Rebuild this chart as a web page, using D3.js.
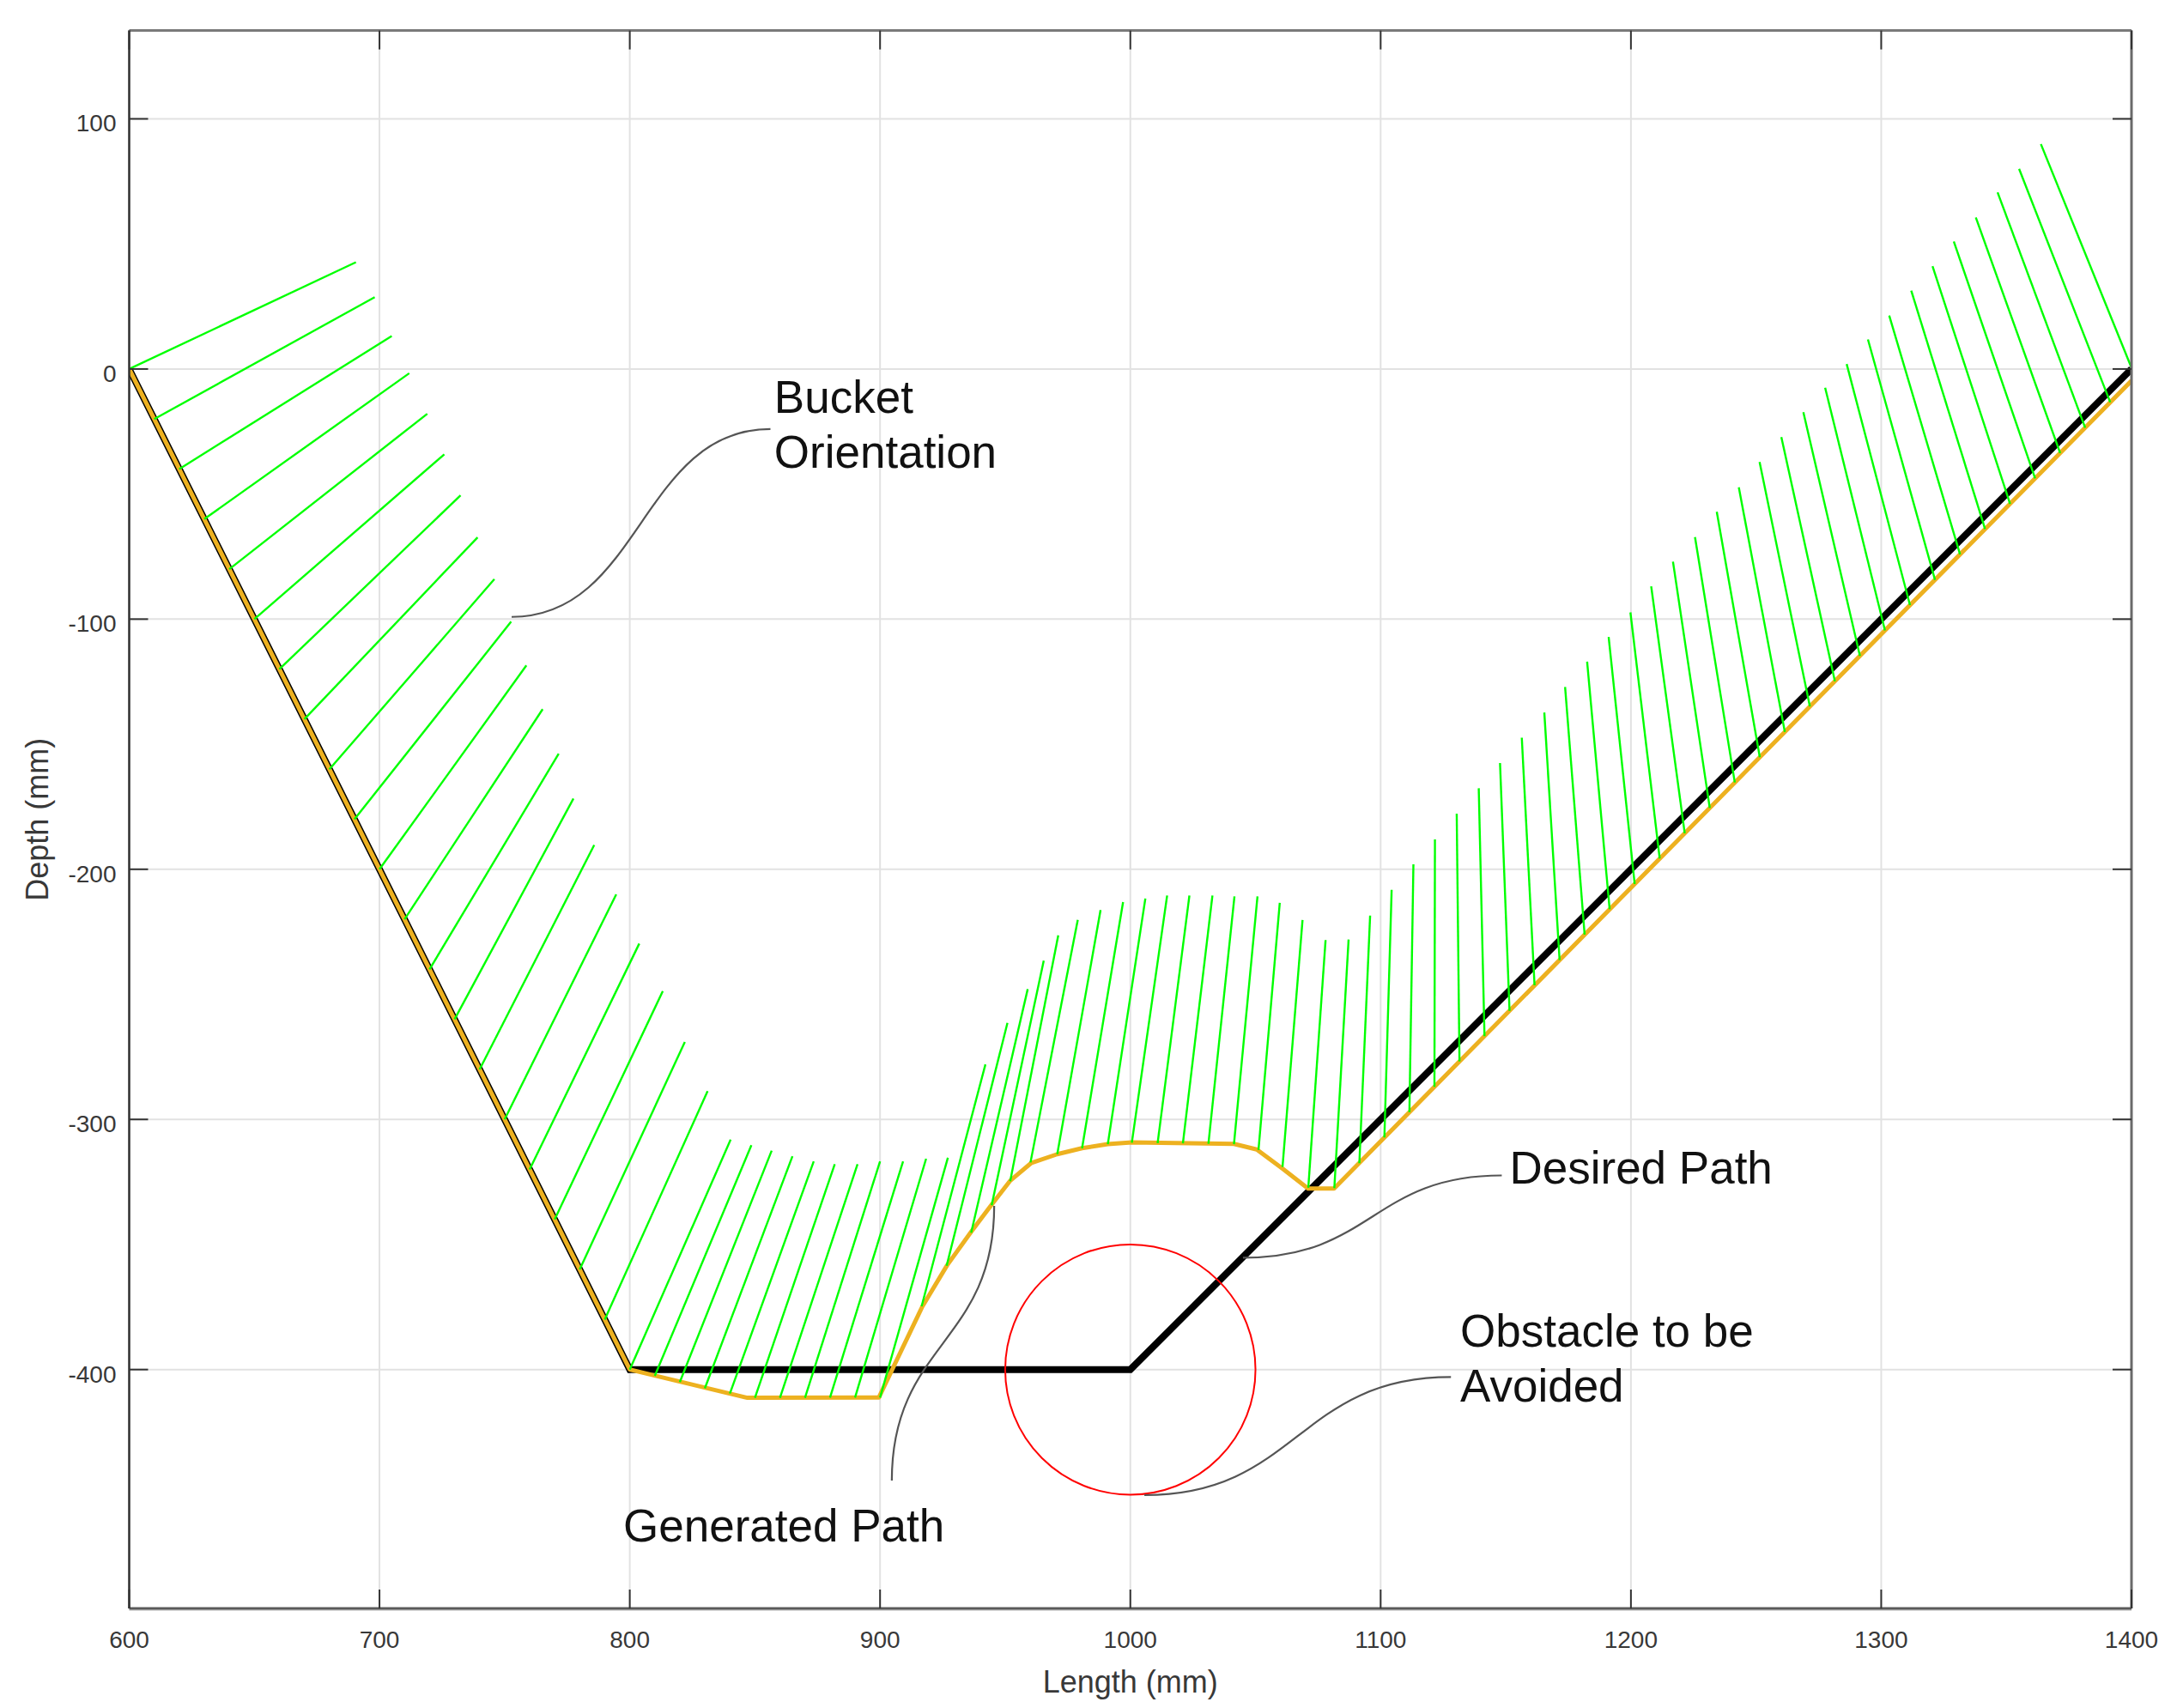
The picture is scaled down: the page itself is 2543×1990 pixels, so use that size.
<!DOCTYPE html>
<html>
<head>
<meta charset="utf-8">
<script src="https://cdn.jsdelivr.net/npm/d3@7"></script>
<style>
  html, body { margin: 0; padding: 0; background: #ffffff; }
  svg { display: block; }
  text { font-family: "Liberation Sans", Arial, Helvetica, sans-serif; }
</style>
</head>
<body>
<svg id="chart" width="2543" height="1990"></svg>
<script>
// ---------------- DATA ----------------
const xTicks = [600, 700, 800, 900, 1000, 1100, 1200, 1300, 1400];
const yTicks = [-400, -300, -200, -100, 0, 100];
const xLabel = "Length (mm)";
const yLabel = "Depth (mm)";

// Desired path (black)
const desiredX = [600, 800, 1000, 1400];
const desiredY = [0, -400, -400, 0];

// Generated path (orange)
const generatedX = [600, 800, 847, 899.5, 901.5, 916.9, 926.8, 936.5, 944.4, 951.9, 960.3, 970.8, 980.7, 991, 1000.6, 1041.4, 1050.5, 1061, 1071, 1081.4, 1400];
const generatedY = [0, -400, -411.3, -411.2, -407, -374.8, -358.3, -344.8, -334.3, -324.6, -317.5, -313.9, -311.5, -309.9, -309.2, -309.8, -312, -319.8, -327.6, -327.6, -4.7];

// Obstacle (red circle)
const obstacleX = [1000];
const obstacleY = [-400];
const obstacleR = [50];

// Bucket orientation segments (green): base point on generated path -> tip
const bucketBaseX = [
  600, 610, 620, 630, 640, 650, 660, 670, 680, 690, 700, 710, 720, 730, 740, 750, 760, 770, 780, 790, 800,
  810, 820, 830, 840, 850, 860, 870, 880, 890, 900,
  916.6, 926.6, 936.4, 944.6, 952, 960.1, 970.8, 980.7, 991, 1000.6, 1010.9, 1021, 1031.2, 1041.4, 1051.2, 1060.8, 1071.1, 1081.5, 1091.5, 1101.5, 1111.5,
  1121.5, 1131.5, 1141.5, 1151.5, 1161.5, 1171.5, 1181.5, 1191.5, 1201.5, 1211.5, 1221.5, 1231.5, 1241.5, 1251.5, 1261.5, 1271.5, 1281.5, 1291.5, 1301.5, 1311.5, 1321.5, 1331.5, 1341.5, 1351.5, 1361.5, 1371.5, 1381.5, 1391.5, 1401.5
];
const bucketBaseY = [
  0, -20, -40, -60, -80, -100, -120, -140, -160, -180, -200, -220, -240, -260, -280, -300, -320, -340, -360, -380, -400,
  -402.5, -405, -407.5, -409.6, -411.3, -411.3, -411.3, -411.2, -411.2, -411.2,
  -374.7, -358.5, -345.3, -334.3, -324.7, -317.2, -313.9, -311.6, -309.9, -309.3, -309.5, -309.6, -309.7, -309.9, -312.2, -319, -327.3, -327.5, -317.5, -307.2, -297.1,
  -287.0, -276.8, -266.7, -256.6, -246.4, -236.3, -226.1, -216.0, -205.9, -195.7, -185.6, -175.5, -165.3, -155.2, -145.1, -134.9, -124.8, -114.7, -104.5, -94.4, -84.3, -74.1, -64.0, -53.9, -43.7, -33.6, -23.5, -13.3, -3.2
];
const bucketTipX = [
  690.6, 698.1, 704.9, 711.9, 719.1, 725.9, 732.4, 739.2, 745.9, 752.6, 758.7, 765.2, 771.6, 777.5, 785.8, 794.6, 803.8, 813.2, 822.0, 831.1, 840.3,
  848.6, 856.7, 865.0, 873.5, 881.9, 891.0, 900.0, 909.2, 918.4, 927.1,
  942.1, 950.9, 959.0, 965.4, 971.2, 979.0, 988.1, 997.1, 1006.0, 1014.7, 1023.6, 1032.8, 1041.6, 1050.8, 1059.7, 1068.8, 1078.0, 1087.2, 1095.8, 1104.4, 1113.1,
  1121.7, 1130.4, 1139.2, 1147.7, 1156.4, 1165.4, 1173.7, 1182.5, 1191.1, 1199.8, 1208.1, 1216.8, 1225.6, 1234.3, 1243.1, 1251.4, 1260.1, 1268.9, 1277.6, 1286.2, 1294.7, 1303.2, 1312.0, 1320.5, 1329.0, 1337.8, 1346.5, 1355.1, 1363.8
];
const bucketTipY = [
  42.7, 28.7, 13.2, -1.7, -17.9, -34.1, -50.5, -67.3, -84.0, -101.0, -118.5, -136.0, -153.8, -171.7, -190.3, -210.0, -229.7, -248.7, -269.0, -288.7, -308.1,
  -310.3, -312.5, -314.7, -316.8, -317.9, -317.9, -316.8, -316.8, -315.7, -315.3,
  -278.0, -261.4, -247.9, -236.5, -226.4, -220.2, -216.3, -213.1, -211.7, -210.5, -210.5, -210.5, -210.8, -210.8, -213.4, -220.3, -228.3, -228.1, -218.5, -208.2, -198.0,
  -188.1, -177.8, -167.6, -157.5, -147.4, -137.3, -127.1, -117.0, -107.1, -97.3, -86.9, -77.0, -67.2, -57.1, -47.3, -37.2, -27.2, -17.3, -7.5, 2.0, 11.8, 21.4, 31.3, 41.1, 51.0, 60.6, 70.6, 80.0, 89.9
];

// Annotations: label lines, text anchor (data), connector start/end (data)
const annoText = [["Bucket", "Orientation"], ["Desired Path"], ["Obstacle to be", "Avoided"], ["Generated Path"]];
const annoTextX = [857.7, 1151.5, 1131.8, 797.4];
const annoTextY = [-17.5, -325.7, -390.7, -468.8];
const annoFromX = [856.2, 1148.4, 1128.1, 945.6];
const annoFromY = [-24.0, -322.4, -403.0, -334.6];
const annoToX = [752.8, 1045.0, 1005.6, 904.7];
const annoToY = [-99.1, -355.3, -450.2, -444.4];
const annoVertical = [false, false, false, true];

// ---------------- LAYOUT ----------------
const svg = d3.select("#chart");
const L = 150.5, R = 2483, T = 35.6, B = 1874;
const x = d3.scaleLinear().domain([600, 1400]).range([L, R]);
const y = d3.scaleLinear().domain([-495.5, 135.3]).range([B, T]);

svg.append("rect").attr("width", 2543).attr("height", 1990).attr("fill", "#ffffff");

svg.append("defs").append("clipPath").attr("id", "plotClip")
  .append("rect").attr("x", L).attr("y", T).attr("width", R - L).attr("height", B - T);

// grid
const grid = svg.append("g");
grid.selectAll(".gx").data(xTicks).enter().append("line")
  .attr("x1", d => x(d)).attr("x2", d => x(d)).attr("y1", T).attr("y2", B)
  .attr("stroke", "#e2e2e2").attr("stroke-width", 2);
grid.selectAll(".gy").data(yTicks).enter().append("line")
  .attr("x1", L).attr("x2", R).attr("y1", d => y(d)).attr("y2", d => y(d))
  .attr("stroke", "#e2e2e2").attr("stroke-width", 2);

const plot = svg.append("g").attr("clip-path", "url(#plotClip)");
const line = d3.line().x(d => x(d[0])).y(d => y(d[1]));

// desired path
plot.append("path")
  .attr("d", line(desiredX.map((v, i) => [v, desiredY[i]])))
  .attr("fill", "none").attr("stroke", "#000000").attr("stroke-width", 8)
  .attr("stroke-linejoin", "miter");

// generated path
plot.append("path")
  .attr("d", line(generatedX.map((v, i) => [v, generatedY[i]])))
  .attr("fill", "none").attr("stroke", "#EDB120").attr("stroke-width", 5)
  .attr("stroke-linejoin", "round");

// bucket orientation
plot.selectAll(".bucket").data(bucketBaseX.map((v, i) => i)).enter().append("line")
  .attr("x1", i => x(bucketBaseX[i])).attr("y1", i => y(bucketBaseY[i]))
  .attr("x2", i => x(bucketTipX[i])).attr("y2", i => y(bucketTipY[i]))
  .attr("stroke", "#00ff00").attr("stroke-width", 2.4);

// obstacle
plot.selectAll(".obs").data(obstacleX.map((v, i) => i)).enter().append("circle")
  .attr("cx", i => x(obstacleX[i])).attr("cy", i => y(obstacleY[i]))
  .attr("r", i => x(obstacleX[i] + obstacleR[i]) - x(obstacleX[i]))
  .attr("fill", "none").attr("stroke", "#ff0000").attr("stroke-width", 2);

// axes box
const axes = svg.append("g");
axes.append("line").attr("x1", L).attr("x2", R).attr("y1", T).attr("y2", T).attr("stroke", "#7a7a7a").attr("stroke-width", 3);
axes.append("line").attr("x1", R).attr("x2", R).attr("y1", T).attr("y2", B).attr("stroke", "#6a6a6a").attr("stroke-width", 3);
axes.append("line").attr("x1", L).attr("x2", R).attr("y1", B + 2).attr("y2", B + 2).attr("stroke", "#d8d8d8").attr("stroke-width", 2);
axes.append("line").attr("x1", L).attr("x2", R).attr("y1", B).attr("y2", B).attr("stroke", "#5a5a5a").attr("stroke-width", 3);
axes.append("line").attr("x1", L).attr("x2", L).attr("y1", T).attr("y2", B).attr("stroke", "#303030").attr("stroke-width", 2.5);

// ticks (inside, all four sides)
const tickLen = 22;
axes.selectAll(".tb").data(xTicks).enter().append("line")
  .attr("x1", d => x(d)).attr("x2", d => x(d)).attr("y1", B).attr("y2", B - tickLen)
  .attr("stroke", "#333").attr("stroke-width", 2);
axes.selectAll(".tt").data(xTicks).enter().append("line")
  .attr("x1", d => x(d)).attr("x2", d => x(d)).attr("y1", T).attr("y2", T + tickLen)
  .attr("stroke", "#333").attr("stroke-width", 2);
axes.selectAll(".tl").data(yTicks).enter().append("line")
  .attr("x1", L).attr("x2", L + tickLen).attr("y1", d => y(d)).attr("y2", d => y(d))
  .attr("stroke", "#333").attr("stroke-width", 2);
axes.selectAll(".tr").data(yTicks).enter().append("line")
  .attr("x1", R).attr("x2", R - tickLen).attr("y1", d => y(d)).attr("y2", d => y(d))
  .attr("stroke", "#333").attr("stroke-width", 2);

// tick labels
axes.selectAll(".xl").data(xTicks).enter().append("text")
  .attr("x", d => x(d)).attr("y", B + 46)
  .attr("text-anchor", "middle").attr("font-size", 28).attr("fill", "#383838")
  .text(d => d);
axes.selectAll(".yl").data(yTicks).enter().append("text")
  .attr("x", L - 15).attr("y", d => y(d) + 15)
  .attr("text-anchor", "end").attr("font-size", 28).attr("fill", "#383838")
  .text(d => d);

// axis labels
svg.append("text").attr("x", (L + R) / 2).attr("y", 1972)
  .attr("text-anchor", "middle").attr("font-size", 36).attr("fill", "#383838").text(xLabel);
svg.append("text").attr("transform", `translate(56,${(T + B) / 2}) rotate(-90)`)
  .attr("text-anchor", "middle").attr("font-size", 36).attr("fill", "#383838").text(yLabel);

// annotations
const ann = svg.append("g");
annoText.forEach((lines, i) => {
  const x0 = x(annoFromX[i]), y0 = y(annoFromY[i]);
  const x1 = x(annoToX[i]), y1 = y(annoToY[i]);
  const p = d3.path();
  p.moveTo(x0, y0);
  if (annoVertical[i]) {
    const my = (y0 + y1) / 2;
    p.bezierCurveTo(x0, my, x1, my, x1, y1);
  } else {
    const mx = (x0 + x1) / 2;
    p.bezierCurveTo(mx, y0, mx, y1, x1, y1);
  }
  ann.append("path").attr("d", p.toString()).attr("fill", "none")
    .attr("stroke", "#555555").attr("stroke-width", 2.2);
  const t = ann.append("text").attr("x", x(annoTextX[i])).attr("y", y(annoTextY[i]))
    .attr("font-size", 53).attr("fill", "#111111");
  lines.forEach((s, j) => {
    t.append("tspan").attr("x", x(annoTextX[i])).attr("dy", j === 0 ? 0 : 64).text(s);
  });
});
</script>
</body>
</html>
